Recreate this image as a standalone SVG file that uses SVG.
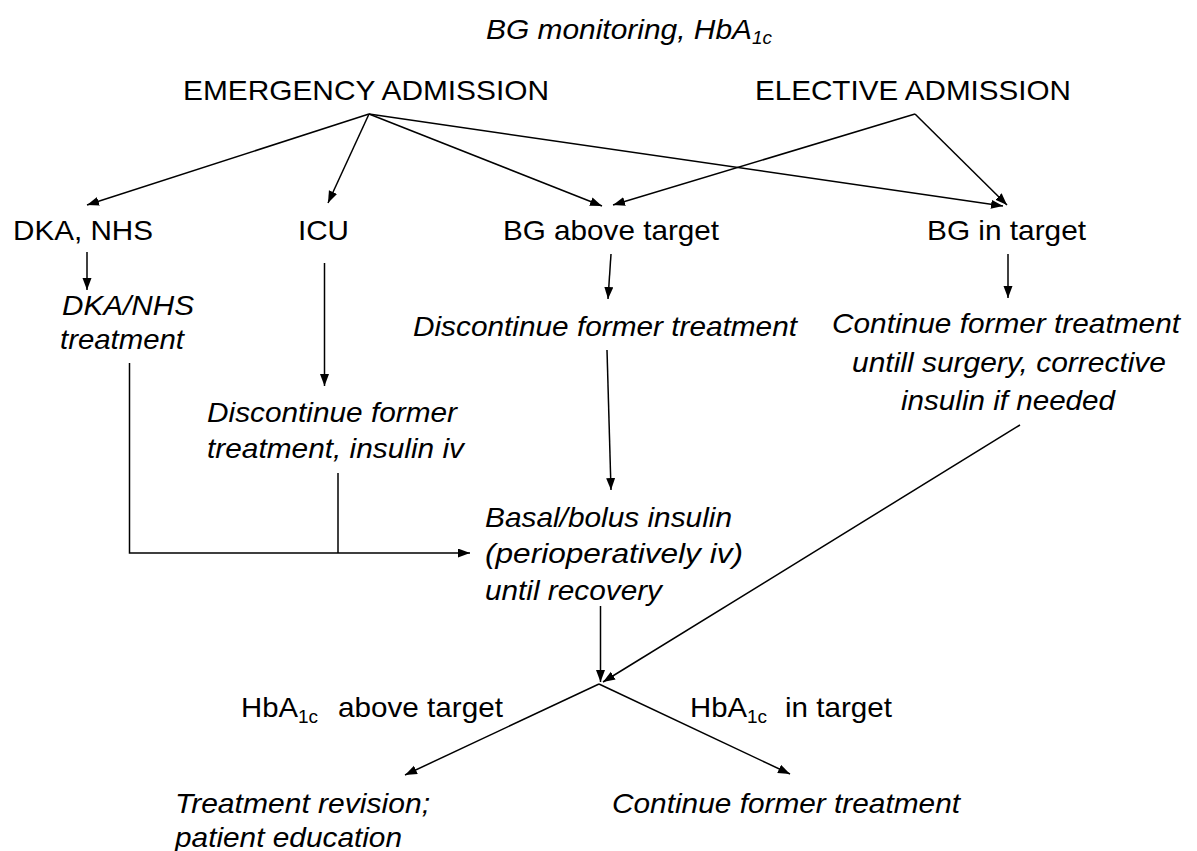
<svg xmlns="http://www.w3.org/2000/svg" width="1197" height="851" viewBox="0 0 1197 851">
<style>
text{font-family:"Liberation Sans",Arial,sans-serif;font-size:28px;fill:#000}
.i{font-style:italic}
.c line,.c polyline{stroke:#000;stroke-width:1.5;fill:none;marker-end:url(#ah)}
.c .n{marker-end:none}
</style>
<defs>
<marker id="ah" markerUnits="userSpaceOnUse" markerWidth="13" markerHeight="10" refX="12" refY="4.5" orient="auto"><path d="M0,0 L12,4.5 L0,9 z" fill="#000"/></marker>
</defs>
<rect width="1197" height="851" fill="#fff"/>
<g id="title"><text class="i" x="486" y="39"><tspan textLength="266" lengthAdjust="spacingAndGlyphs">BG monitoring, HbA</tspan><tspan font-size="19" dy="5">1c</tspan></text></g>
<g id="emergency"><text x="183" y="100" textLength="366" lengthAdjust="spacingAndGlyphs">EMERGENCY ADMISSION</text></g>
<g id="elective"><text x="755" y="100" textLength="316" lengthAdjust="spacingAndGlyphs">ELECTIVE ADMISSION</text></g>
<g id="dka"><text x="13" y="240" textLength="140" lengthAdjust="spacingAndGlyphs">DKA, NHS</text></g>
<g id="icu"><text x="298" y="240" textLength="51" lengthAdjust="spacingAndGlyphs">ICU</text></g>
<g id="bgabove"><text x="503" y="240" textLength="216" lengthAdjust="spacingAndGlyphs">BG above target</text></g>
<g id="bgin"><text x="927" y="240" textLength="159" lengthAdjust="spacingAndGlyphs">BG in target</text></g>
<g id="dkatreat"><text class="i" x="62" y="315" textLength="132" lengthAdjust="spacingAndGlyphs">DKA/NHS</text><text class="i" x="60" y="349" textLength="124" lengthAdjust="spacingAndGlyphs">treatment</text></g>
<g id="disc1"><text class="i" x="413" y="336" textLength="384" lengthAdjust="spacingAndGlyphs">Discontinue former treatment</text></g>
<g id="cont1"><text class="i" x="832" y="333" textLength="348" lengthAdjust="spacingAndGlyphs">Continue former treatment</text><text class="i" x="852" y="372" textLength="314" lengthAdjust="spacingAndGlyphs">untill surgery, corrective</text><text class="i" x="901" y="410" textLength="214" lengthAdjust="spacingAndGlyphs">insulin if needed</text></g>
<g id="disc2"><text class="i" x="207" y="422" textLength="250" lengthAdjust="spacingAndGlyphs">Discontinue former</text><text class="i" x="207" y="458" textLength="257" lengthAdjust="spacingAndGlyphs">treatment, insulin iv</text></g>
<g id="basal"><text class="i" x="485" y="527" textLength="247" lengthAdjust="spacingAndGlyphs">Basal/bolus insulin</text><text class="i" x="485" y="563" textLength="258" lengthAdjust="spacingAndGlyphs">(perioperatively iv)</text><text class="i" x="485" y="600" textLength="177" lengthAdjust="spacingAndGlyphs">until recovery</text></g>
<g id="hbaabove"><text x="241" y="717"><tspan textLength="57" lengthAdjust="spacingAndGlyphs">HbA</tspan><tspan font-size="19" dy="6">1c</tspan><tspan x="338" y="717" textLength="165" lengthAdjust="spacingAndGlyphs">above target</tspan></text></g>
<g id="hbain"><text x="690" y="717"><tspan textLength="57" lengthAdjust="spacingAndGlyphs">HbA</tspan><tspan font-size="19" dy="6">1c</tspan><tspan x="785" y="717" textLength="107" lengthAdjust="spacingAndGlyphs">in target</tspan></text></g>
<g id="revision"><text class="i" x="175" y="813" textLength="255" lengthAdjust="spacingAndGlyphs">Treatment revision;</text><text class="i" x="175" y="847" textLength="227" lengthAdjust="spacingAndGlyphs">patient education</text></g>
<g id="cont2"><text class="i" x="612" y="813" textLength="348" lengthAdjust="spacingAndGlyphs">Continue former treatment</text></g>
<g id="connectors" class="c">
<line x1="369" y1="114" x2="87" y2="205"/>
<line x1="369" y1="114" x2="328" y2="203"/>
<line x1="369" y1="114" x2="602" y2="206"/>
<line x1="369" y1="114" x2="1003" y2="206"/>
<line x1="915" y1="114" x2="613" y2="205"/>
<line x1="915" y1="114" x2="1007" y2="205"/>
<line x1="87" y1="252" x2="87" y2="290"/>
<line x1="324.5" y1="263" x2="324.5" y2="386"/>
<line x1="611" y1="254" x2="608" y2="299"/>
<line x1="1008" y1="254" x2="1008" y2="298"/>
<line x1="607" y1="350" x2="611" y2="490"/>
<polyline points="129.5,363 129.5,553 470,553"/>
<line class="n" x1="338" y1="473" x2="338" y2="553"/>
<line x1="600.5" y1="606" x2="600.5" y2="682"/>
<line x1="1020" y1="425" x2="603" y2="682"/>
<line x1="599" y1="684" x2="405" y2="775"/>
<line x1="599" y1="684" x2="790" y2="774"/>
</g>
</svg>
